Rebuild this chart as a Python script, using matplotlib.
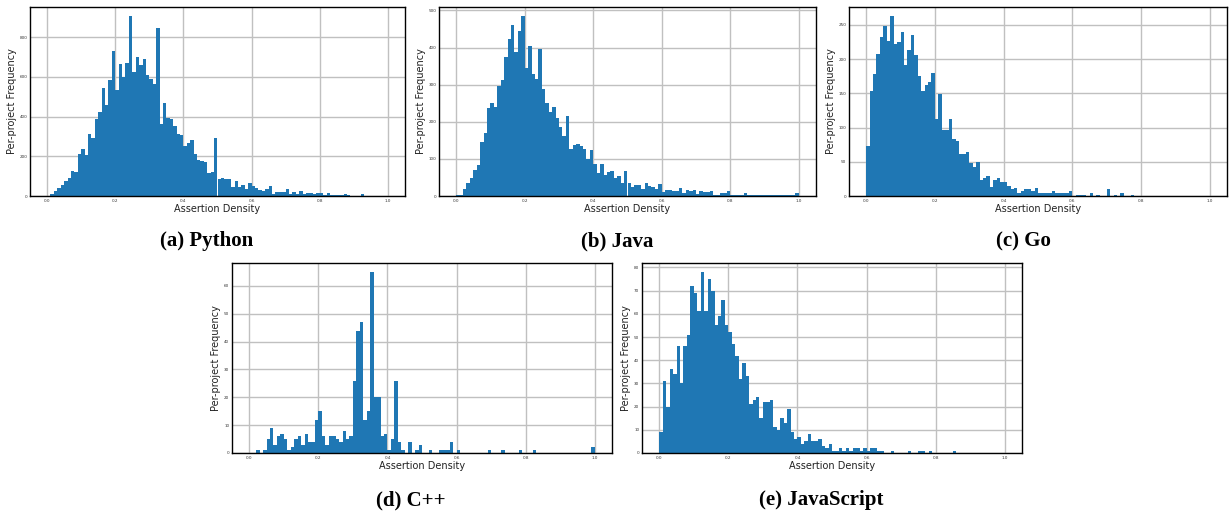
import matplotlib
matplotlib.use("Agg")
import matplotlib.pyplot as plt
import numpy as np

# Per-project histogram counts, 100 bins of width 0.01 over [0, 1]
python_counts = [
    2, 8, 27, 42, 54, 74, 89, 124, 119, 210,
    235, 205, 311, 291, 387, 422, 543, 457, 583, 729,
    534, 665, 600, 671, 907, 624, 699, 660, 691, 608,
    588, 565, 845, 361, 467, 392, 387, 355, 311, 306,
    252, 266, 281, 210, 180, 175, 170, 116, 119, 292,
    84, 89, 84, 84, 45, 74, 44, 54, 34, 64,
    49, 40, 30, 24, 34, 49, 8, 18, 18, 18,
    34, 8, 18, 8, 24, 8, 13, 13, 8, 13,
    13, 5, 13, 3, 3, 3, 3, 8, 3, 2,
    2, 2, 8, 2, 2, 1, 1, 1, 1, 1,
]
java_counts = [
    4, 4, 18, 34, 48, 69, 83, 145, 171, 237,
    250, 239, 296, 312, 374, 423, 460, 388, 444, 485,
    344, 404, 328, 314, 396, 288, 250, 226, 239, 210,
    185, 161, 215, 126, 137, 139, 134, 126, 99, 123,
    85, 61, 85, 56, 64, 67, 49, 54, 36, 67,
    35, 23, 29, 29, 20, 34, 28, 23, 18, 32,
    10, 15, 15, 13, 13, 21, 8, 15, 13, 15,
    6, 13, 10, 10, 13, 4, 4, 7, 7, 13,
    4, 4, 4, 3, 7, 4, 2, 2, 2, 4,
    2, 2, 4, 2, 2, 2, 4, 4, 4, 8,
]
go_counts = [
    73, 153, 178, 207, 232, 248, 226, 263, 222, 225,
    239, 192, 213, 235, 206, 175, 153, 162, 166, 179,
    112, 149, 96, 97, 112, 84, 80, 62, 61, 64,
    48, 42, 49, 23, 26, 29, 13, 24, 27, 20,
    20, 14, 10, 11, 5, 8, 10, 10, 8, 11,
    5, 5, 5, 5, 7, 4, 4, 4, 4, 7,
    0, 2, 2, 2, 0, 4, 0, 2, 0, 0,
    10, 0, 2, 0, 4, 0, 0, 2, 0, 0,
    0, 0, 0, 0, 0, 0, 0, 0, 0, 0,
    0, 0, 0, 0, 0, 0, 0, 0, 0, 0,
]
cpp_counts = [
    0, 0, 1, 0, 1, 5, 9, 3, 6, 7,
    5, 1, 2, 5, 6, 3, 7, 4, 4, 12,
    15, 6, 3, 6, 6, 5, 4, 8, 5, 6,
    26, 44, 47, 12, 15, 65, 20, 20, 6, 7,
    1, 5, 26, 4, 1, 0, 4, 0, 1, 3,
    0, 0, 1, 0, 0, 1, 1, 1, 4, 0,
    1, 0, 0, 0, 0, 0, 0, 0, 0, 1,
    0, 0, 0, 1, 0, 0, 0, 0, 1, 0,
    0, 0, 1, 0, 0, 0, 0, 0, 0, 0,
    0, 0, 0, 0, 0, 0, 0, 0, 0, 2,
]
js_counts = [
    9, 31, 20, 36, 34, 46, 30, 46, 51, 72,
    69, 61, 78, 61, 75, 70, 55, 59, 66, 55,
    52, 47, 42, 32, 39, 33, 21, 23, 24, 15,
    22, 22, 23, 11, 10, 15, 13, 19, 9, 6,
    7, 4, 5, 8, 5, 5, 6, 3, 2, 4,
    1, 1, 2, 1, 2, 1, 2, 2, 1, 2,
    1, 2, 2, 1, 1, 0, 0, 1, 0, 0,
    0, 0, 1, 0, 0, 1, 1, 0, 1, 0,
    0, 0, 0, 0, 0, 1, 0, 0, 0, 0,
    0, 0, 0, 0, 0, 0, 0, 0, 0, 0,
]
captions = ["(a) Python", "(b) Java", "(c) Go", "(d) C++", "(e) JavaScript"]

bin_edges = np.linspace(0, 1, 101)

W, H = 1231, 516
fig = plt.figure(figsize=(W / 100, H / 100), dpi=100)


def px_rect(left, top, right, bottom):
    # pixel box -> figure fraction
    return [left / W, 1 - bottom / H, (right - left) / W, (bottom - top) / H]


panels = [
    (python_counts, (30, 7, 405, 196), (207, 241)),
    (java_counts, (439, 7, 816, 196), (617, 241)),
    (go_counts, (849, 7, 1227, 196), (1023, 241)),
    (cpp_counts, (232, 263, 612, 453), (411, 500)),
    (js_counts, (642, 263, 1022, 453), (821, 500)),
]

for (counts, box, cap_pos), cap in zip(panels, captions):
    ax = fig.add_axes(px_rect(*box))
    ax.bar(bin_edges[:-1], counts, width=0.01, align="edge",
           color="#1f77b4", linewidth=0, zorder=2)
    ax.set_xlim(-0.05, 1.05)
    ax.set_xticks([0.0, 0.2, 0.4, 0.6, 0.8, 1.0])
    ax.grid(True, color="#c0c0c0", linewidth=1.0, zorder=0)
    ax.set_axisbelow(True)
    ax.tick_params(length=0, labelsize=3, pad=2, colors="#333333")
    for s in ax.spines.values():
        s.set_color("black")
        s.set_linewidth(1.0)
    ax.set_xlabel("Assertion Density", fontsize=7, labelpad=1, color="#222222")
    ax.set_ylabel("Per-project Frequency", fontsize=7, labelpad=2, color="#222222")
    fig.text(cap_pos[0] / W, 1 - cap_pos[1] / H, cap, ha="center", va="center",
             fontsize=15, fontweight="bold", family="Liberation Serif")

fig.savefig("out.png", dpi=100)
